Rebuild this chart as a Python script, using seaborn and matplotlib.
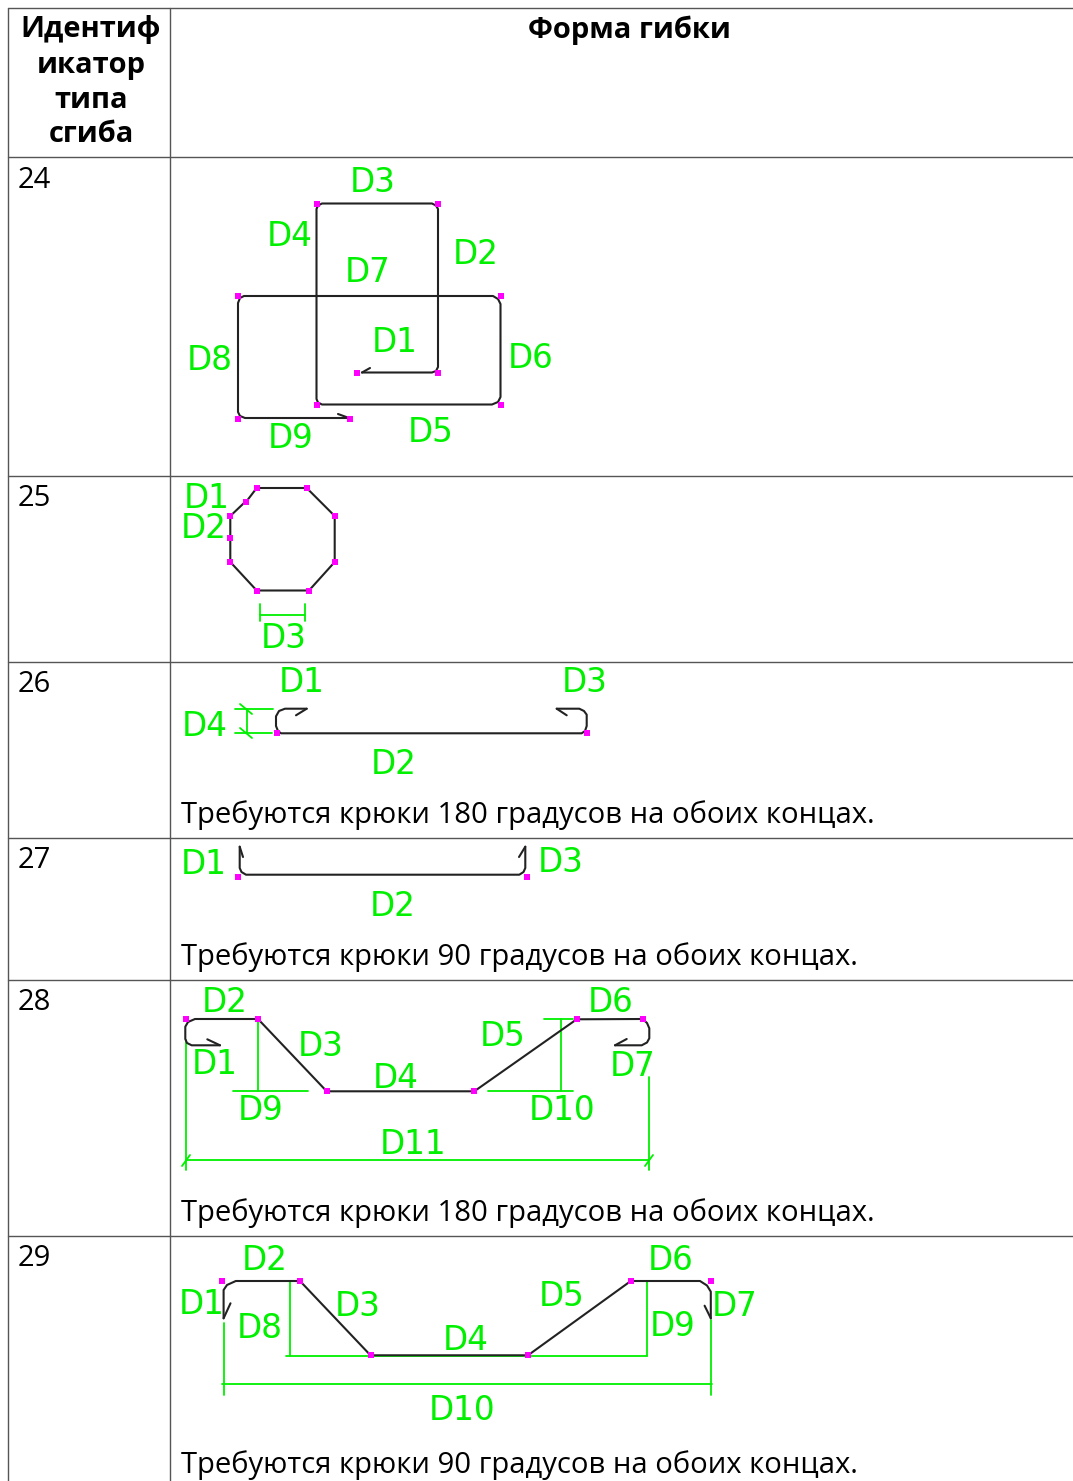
import matplotlib
matplotlib.use('Agg')
import matplotlib.pyplot as plt
import seaborn as sns

sns.set_theme(style='white')
plt.rcParams['font.family'] = ['Open Sans', 'Noto Sans', 'DejaVu Sans']

# table text
header_left = ['Идентиф', 'икатор', 'типа', 'сгиба']
header_right = 'Форма гибки'
row_ids = ['24', '25', '26', '27', '28', '29']
id_y = [178, 497, 683, 859, 1001, 1257]
notes = ['Требуются крюки 180 градусов на обоих концах.',
         'Требуются крюки 90 градусов на обоих концах.',
         'Требуются крюки 180 градусов на обоих концах.',
         'Требуются крюки 90 градусов на обоих концах.']
note_y = [813, 955, 1211, 1463]
row_lines = [8, 157, 476, 662, 838, 980, 1236]
col_lines = [8, 170]

# black outlines in pixels
black_paths = [
    # 24
    [(362, 372.5), (432, 372.5), (436, 371), (438, 367), (438, 209), (436, 205.5), (432, 203.5), (322, 203.5),
     (318, 205.5), (316.5, 209), (316.5, 399), (318, 402.5), (322, 404.5), (492, 404.5), (498, 402), (500.5, 397),
     (500.5, 304), (498, 299), (493, 296), (244, 296), (240, 298), (238, 303), (238, 412), (240, 416), (245, 418), (349, 418)],
    [(362, 372.5), (370, 368)],
    [(338, 414), (349, 418)],
    # 25
    [(246, 502), (256.7, 488), (306.7, 488), (334.7, 516), (334.7, 562), (309, 590.5), (256.7, 590.5),
     (230.3, 562), (230.3, 516), (244, 503)],
    # 26
    [(306.7, 708.7), (285, 708.7), (279, 711), (276, 716.3), (276, 726), (278, 731), (281, 733.3), (581.7, 733.3),
     (585, 731), (586.7, 726), (586.7, 714.7), (584, 711), (579.3, 708.7), (556.7, 708.7)],
    [(306.7, 708.7), (296, 715.3)],
    [(556.7, 708.7), (566.7, 715.3)],
    # 27
    [(239.7, 846.7), (239.7, 868), (241.5, 872), (246, 874.7), (519.3, 874.7), (523.5, 872), (525.3, 868), (525.3, 846.7)],
    [(239.7, 846.7), (243, 857)],
    [(525.3, 846.7), (519, 857)],
    # 28
    [(220, 1045.3), (191.7, 1045.3), (187, 1043), (185.3, 1039), (185.3, 1026.7), (188, 1022), (195, 1019), (258, 1019),
     (326.7, 1091.3), (474.3, 1091.3), (576.7, 1019.3), (642.7, 1019), (647, 1023), (649.3, 1028.3), (649.3, 1038.3),
     (647, 1042.5), (641.7, 1045.3), (615, 1045.3)],
    [(220, 1045.3), (207.3, 1039.3)],
    [(615, 1045.3), (626.7, 1039)],
    # 29
    [(223.6, 1318.3), (223.6, 1290), (227, 1285), (235.8, 1281), (300, 1281), (370.5, 1355.3), (528, 1355.3),
     (630.8, 1281), (700, 1281), (707, 1285.5), (710.8, 1291.7), (710.8, 1318.3)],
    [(223.6, 1318.3), (230.5, 1303.3)],
    [(710.8, 1318.3), (704.6, 1305.7)],
]

# green dimension lines
green_paths = [
    # 25
    [(260, 614.5), (305, 614.5)], [(260, 604), (260, 621)], [(305, 604), (305, 621)],
    # 26
    [(235, 708.7), (272.7, 708.7)], [(235, 733.3), (271.7, 733.3)], [(247.3, 708.7), (247.3, 733.3)],
    [(240, 704), (252, 714)], [(240, 728), (252, 738)],
    # 28
    [(186, 1040), (186, 1170)], [(258, 1022), (258, 1091.3)], [(233.3, 1091.3), (308.3, 1091.3)],
    [(488.3, 1091.3), (573.3, 1091.3)], [(544, 1019), (573, 1019)], [(560.7, 1019), (560.7, 1091.3)],
    [(649, 1077), (649, 1170)], [(186, 1160), (649, 1160)],
    [(182, 1166), (190, 1155)], [(645, 1166), (653, 1155)],
    # 29
    [(224.3, 1323), (224.3, 1395)], [(289.8, 1281), (289.8, 1356)], [(286, 1355.7), (647.2, 1355.7)],
    [(646.5, 1281), (646.5, 1356)], [(710.8, 1320), (710.8, 1395)], [(222, 1384), (712, 1384)],
]

# magenta vertex markers
dots_x = [316.7, 438, 238, 500.7, 356.7, 438, 316.7, 500.7, 238, 350,
          256.7, 306.7, 334.7, 334.7, 309, 256.7, 230.3, 230.3, 230.3, 246.3,
          276.7, 586.7,
          238.3, 526.7,
          186, 258, 326.7, 474.3, 576.7, 642.7,
          221.7, 300, 370.5, 528, 630.8, 710.8]
dots_y = [204, 204, 296, 296, 372.7, 372.7, 404.7, 404.7, 418.7, 418.7,
          488, 488, 516.3, 562.3, 590.7, 590.7, 562.3, 538, 516.3, 502,
          733.3, 733.3,
          877.3, 877.3,
          1019.3, 1019.3, 1091.3, 1091.3, 1019.3, 1019.3,
          1281, 1281, 1355.3, 1355.3, 1281, 1281]

# green labels: text, centre x, centre y
label_text = ['D3', 'D4', 'D2', 'D7', 'D1', 'D8', 'D6', 'D5', 'D9',
              'D1', 'D2', 'D3',
              'D1', 'D3', 'D4', 'D2',
              'D1', 'D3', 'D2',
              'D2', 'D6', 'D3', 'D5', 'D1', 'D7', 'D4', 'D9', 'D10', 'D11',
              'D2', 'D6', 'D1', 'D3', 'D5', 'D7', 'D8', 'D9', 'D4', 'D10']
label_x = [372.8, 290, 475.5, 368, 395, 210, 531, 430.3, 290.3,
           207, 204, 284,
           301.5, 585, 205, 394,
           203.8, 561, 393,
           225, 611, 320.3, 502.7, 215, 632.7, 396, 260.3, 562.3, 413.3,
           265, 671, 201.5, 358, 562, 734.5, 260, 673, 466, 461.6]
label_y = [180.5, 234, 252.5, 270, 340.5, 358, 357, 431, 437,
           496, 526, 637,
           681, 681, 724, 762,
           862.7, 861, 904,
           1001, 1001, 1045, 1035, 1062, 1064, 1076, 1109, 1109, 1142,
           1259, 1259, 1302, 1304, 1294, 1304, 1326, 1324, 1338, 1408]

fig = plt.figure(figsize=(10.73, 14.81), dpi=100)
ax = fig.add_axes([0, 0, 1, 1])


def draw_path(points, color, lw):
    xs = [p[0] for p in points]
    ys = [p[1] for p in points]
    sns.lineplot(x=xs, y=ys, sort=False, estimator=None, color=color, linewidth=lw, ax=ax)


# table grid
for y in row_lines:
    draw_path([(8, y), (1073, y)], '#555555', 1.0)
for x in col_lines:
    draw_path([(x, 8), (x, 1481)], '#555555', 1.0)

for path in green_paths:
    draw_path(path, '#00f000', 1.3)
for path in black_paths:
    draw_path(path, '#222222', 1.5)

sns.scatterplot(x=dots_x, y=dots_y, marker='s', s=24, color='#ff00ff', linewidth=0, ax=ax, zorder=5)

ax.set_xlim(0, 1073)
ax.set_ylim(1481, 0)
ax.axis('off')

# text
for t, y in zip(header_left, [30, 66, 100, 134]):
    ax.text(91, y, t, ha='center', va='center', fontsize=21, fontweight='bold', color='#000000')
ax.text(629, 30, header_right, ha='center', va='center', fontsize=21, fontweight='bold', color='#000000')
for t, y in zip(row_ids, id_y):
    ax.text(18, y + 2, t, ha='left', va='center', fontsize=21, color='#000000')
for t, y in zip(notes, note_y):
    ax.text(181, y + 2, t, ha='left', va='center', fontsize=21.1, color='#000000')
for t, x, y in zip(label_text, label_x, label_y):
    ax.text(x, y + 2, t, ha='center', va='center', fontsize=23.5, color='#00f000', family='DejaVu Sans')

fig.savefig('out.png', dpi=100)
